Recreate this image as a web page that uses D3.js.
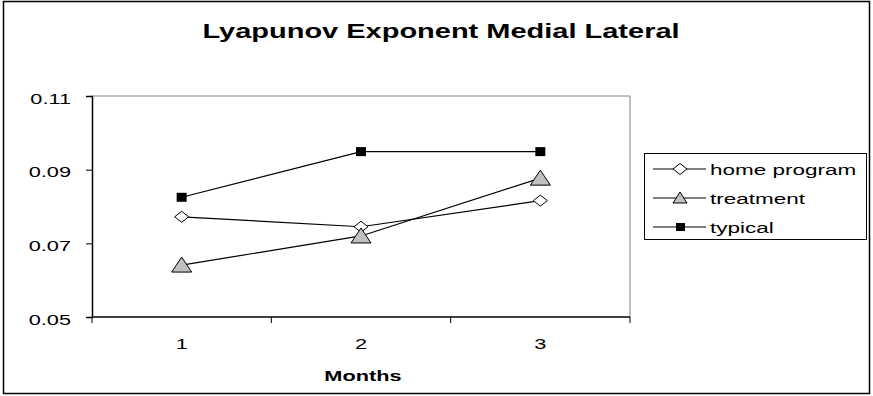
<!DOCTYPE html>
<html>
<head>
<meta charset="utf-8">
<script src="https://cdn.jsdelivr.net/npm/d3@7"></script>
<style>
  html, body { margin: 0; padding: 0; background: #fff; }
  svg { display: block; font-family: "Liberation Sans", Arial, sans-serif; }
</style>
</head>
<body>
<svg id="chart" width="873" height="396"></svg>
<script>
// Months on the x axis
const months = [1, 2, 3];
// Lyapunov exponent per group
const homeProgram = [0.0772, 0.0745, 0.0816];
const treatment = [0.0641, 0.0720, 0.0877];
const typical = [0.0825, 0.0949, 0.0949];
const yTicks = [0.05, 0.07, 0.09, 0.11];

const series = [
  { name: "home program", values: homeProgram, symbol: "diamond" },
  { name: "treatment", values: treatment, symbol: "triangle" },
  { name: "typical", values: typical, symbol: "square" }
];

const svg = d3.select("#chart");
const W = 873, H = 396;
const plot = { left: 92, right: 630, top: 96, bottom: 317 };
const SX = 1.45; // wide lettering: glyphs stretched horizontally

// text placed at (x, y) and stretched horizontally about its anchor
function label(parent, x, y, str, size, anchor, bold) {
  return parent.append("text")
    .attr("transform", `translate(${x},${y}) scale(${SX},1)`)
    .attr("text-anchor", anchor)
    .attr("font-size", size)
    .attr("font-weight", bold ? "bold" : "normal")
    .attr("fill", "#000")
    .text(str);
}

// outer chart frame
svg.append("rect").attr("x", 3.5).attr("y", 1.5).attr("width", W - 7).attr("height", H - 4)
  .attr("fill", "#fff").attr("stroke", "#000").attr("stroke-width", 1.5);

label(svg, 441, 38, "Lyapunov Exponent Medial Lateral", 20, "middle", true);

const x = d3.scaleBand().domain(months).range([plot.left, plot.right]);
const y = d3.scaleLinear().domain([0.05, 0.11]).range([plot.bottom, plot.top]);

// plot area frame: grey top and right edges
svg.append("path")
  .attr("d", `M${plot.left},${plot.top}H${plot.right}V${plot.bottom}`)
  .attr("fill", "none").attr("stroke", "#808080").attr("stroke-width", 1);

// y axis
const yAxis = svg.append("g").attr("transform", `translate(${plot.left},0)`)
  .call(d3.axisLeft(y).tickValues(yTicks).tickSize(6).tickFormat(""));
yAxis.select(".domain").attr("stroke", "#000").attr("stroke-width", 1.5);
yAxis.selectAll(".tick line").attr("stroke", "#000");
yTicks.forEach(t => label(svg, 71, y(t) + 7.5, d3.format(".2f")(t), 15, "end", false));

// x axis with ticks between categories
const xAxis = svg.append("g").attr("transform", `translate(0,${plot.bottom})`);
xAxis.append("line").attr("x1", plot.left).attr("x2", plot.right).attr("stroke", "#000").attr("stroke-width", 1.5);
const edges = months.map(m => x(m)).concat([x(months[months.length - 1]) + x.bandwidth()]);
xAxis.selectAll("line.tk").data(edges).join("line").attr("class", "tk")
  .attr("x1", d => d).attr("x2", d => d).attr("y1", 0).attr("y2", 6).attr("stroke", "#000");
months.forEach(m => label(svg, x(m) + x.bandwidth() / 2, 348.5, String(m), 15, "middle", false));

label(svg, 363, 381, "Months", 15, "middle", true);

const cx = m => x(m) + x.bandwidth() / 2;

function drawSymbol(g, type, px, py) {
  if (type === "diamond") {
    g.append("path").attr("d", `M${px},${py - 5.5}L${px + 7},${py}L${px},${py + 5.5}L${px - 7},${py}Z`)
      .attr("fill", "#fff").attr("stroke", "#000").attr("stroke-width", 1);
  } else if (type === "triangle") {
    g.append("path").attr("d", `M${px},${py - 8}L${px + 10},${py + 7}L${px - 10},${py + 7}Z`)
      .attr("fill", "#c0c0c0").attr("stroke", "#000").attr("stroke-width", 1);
  } else {
    g.append("rect").attr("x", px - 5).attr("y", py - 4.5).attr("width", 10).attr("height", 9)
      .attr("fill", "#000");
  }
}

const line = d3.line().x((d, i) => cx(months[i])).y(d => y(d));
series.forEach(s => {
  const g = svg.append("g");
  g.append("path").attr("d", line(s.values)).attr("fill", "none").attr("stroke", "#000").attr("stroke-width", 1.2);
  s.values.forEach((v, i) => drawSymbol(g, s.symbol, cx(months[i]), y(v)));
});

// legend
const lg = svg.append("g");
lg.append("rect").attr("x", 644.5).attr("y", 153.5).attr("width", 222).attr("height", 86)
  .attr("fill", "#fff").attr("stroke", "#000").attr("stroke-width", 1);
series.forEach((s, i) => {
  const ly = 169 + i * 29;
  lg.append("line").attr("x1", 653).attr("x2", 706).attr("y1", ly).attr("y2", ly)
    .attr("stroke", "#000").attr("stroke-width", 1.2);
  const g = lg.append("g");
  if (s.symbol === "triangle") {
    g.append("path").attr("d", `M680,${ly - 6}L687,${ly + 5}L673,${ly + 5}Z`)
      .attr("fill", "#c0c0c0").attr("stroke", "#000");
  } else if (s.symbol === "diamond") {
    drawSymbol(g, "diamond", 680, ly);
  } else {
    g.append("rect").attr("x", 676).attr("y", ly - 4).attr("width", 9).attr("height", 8).attr("fill", "#000");
  }
  label(lg, 710, ly + 5.5, s.name, 15.5, "start", false);
});
</script>
</body>
</html>
